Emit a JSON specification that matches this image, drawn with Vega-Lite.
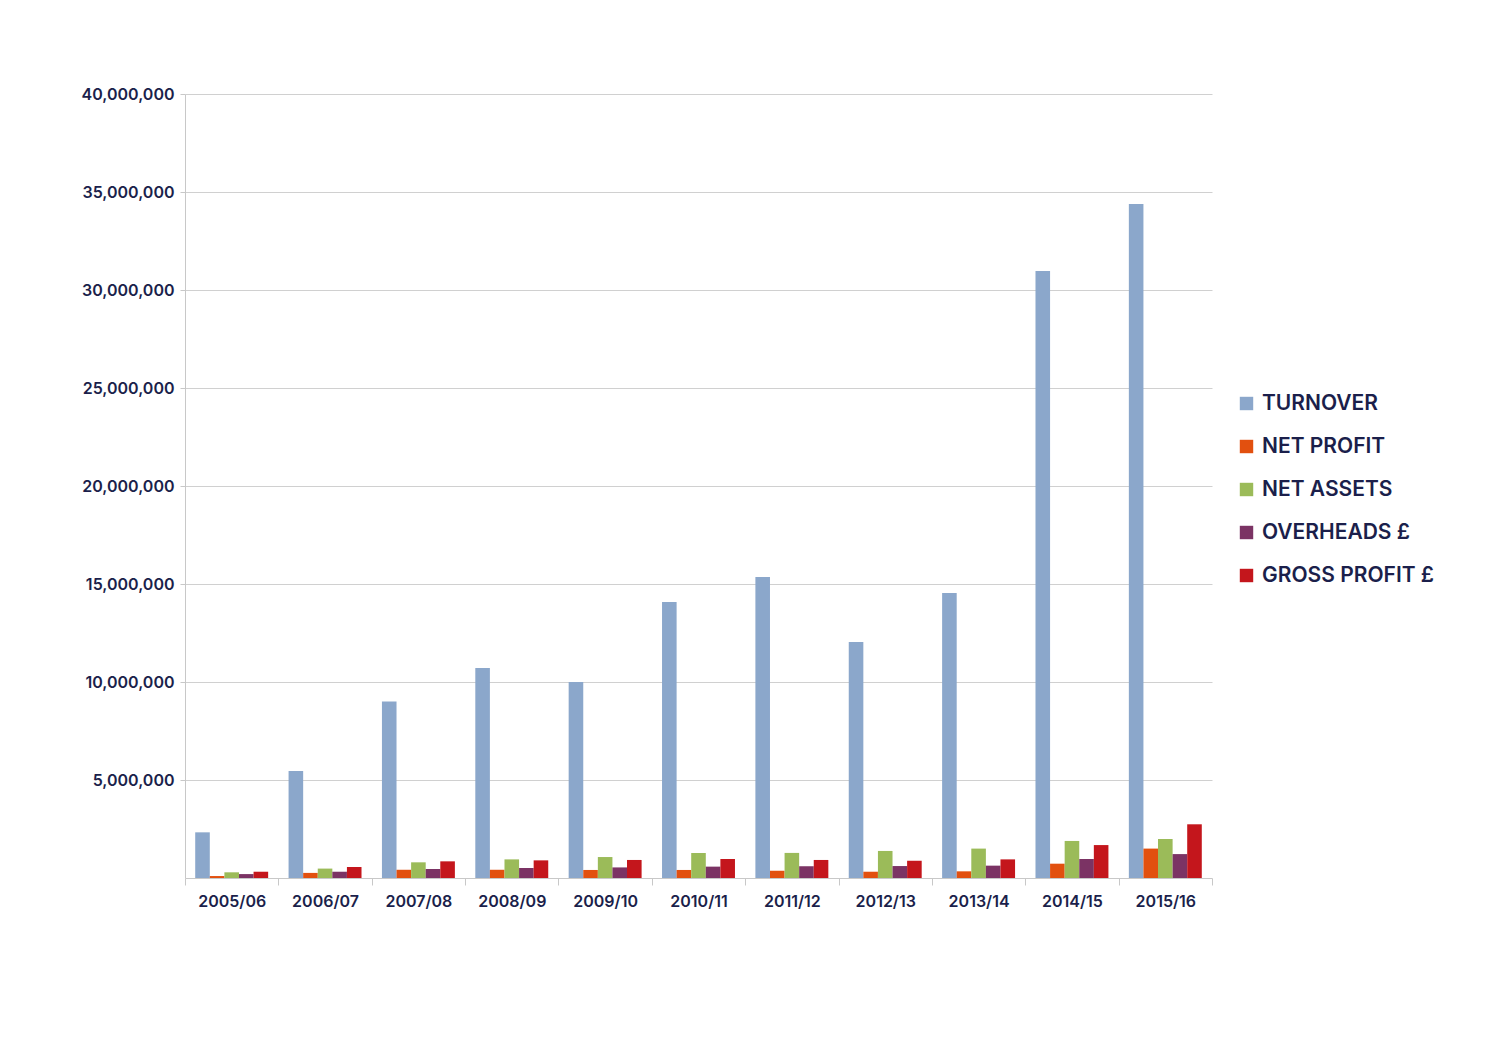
{
  "$schema": "https://vega.github.io/schema/vega-lite/v6.json",
  "width": 1027,
  "height": 784,
  "autosize": {"type": "none"},
  "padding": {"left": 185, "top": 94, "right": 288, "bottom": 182},
  "background": "white",
  "config": {
    "view": {"stroke": null},
    "font": "Inter"
  },
  "data": {
    "values": [
      {"year": "2005/06", "series": "TURNOVER", "value": 2330000},
      {"year": "2005/06", "series": "NET PROFIT", "value": 100000},
      {"year": "2005/06", "series": "NET ASSETS", "value": 290000},
      {"year": "2005/06", "series": "OVERHEADS £", "value": 200000},
      {"year": "2005/06", "series": "GROSS PROFIT £", "value": 320000},
      {"year": "2006/07", "series": "TURNOVER", "value": 5460000},
      {"year": "2006/07", "series": "NET PROFIT", "value": 260000},
      {"year": "2006/07", "series": "NET ASSETS", "value": 480000},
      {"year": "2006/07", "series": "OVERHEADS £", "value": 320000},
      {"year": "2006/07", "series": "GROSS PROFIT £", "value": 560000},
      {"year": "2007/08", "series": "TURNOVER", "value": 9000000},
      {"year": "2007/08", "series": "NET PROFIT", "value": 420000},
      {"year": "2007/08", "series": "NET ASSETS", "value": 800000},
      {"year": "2007/08", "series": "OVERHEADS £", "value": 460000},
      {"year": "2007/08", "series": "GROSS PROFIT £", "value": 850000},
      {"year": "2008/09", "series": "TURNOVER", "value": 10710000},
      {"year": "2008/09", "series": "NET PROFIT", "value": 420000},
      {"year": "2008/09", "series": "NET ASSETS", "value": 950000},
      {"year": "2008/09", "series": "OVERHEADS £", "value": 510000},
      {"year": "2008/09", "series": "GROSS PROFIT £", "value": 900000},
      {"year": "2009/10", "series": "TURNOVER", "value": 10000000},
      {"year": "2009/10", "series": "NET PROFIT", "value": 410000},
      {"year": "2009/10", "series": "NET ASSETS", "value": 1070000},
      {"year": "2009/10", "series": "OVERHEADS £", "value": 540000},
      {"year": "2009/10", "series": "GROSS PROFIT £", "value": 920000},
      {"year": "2010/11", "series": "TURNOVER", "value": 14080000},
      {"year": "2010/11", "series": "NET PROFIT", "value": 410000},
      {"year": "2010/11", "series": "NET ASSETS", "value": 1280000},
      {"year": "2010/11", "series": "OVERHEADS £", "value": 580000},
      {"year": "2010/11", "series": "GROSS PROFIT £", "value": 970000},
      {"year": "2011/12", "series": "TURNOVER", "value": 15360000},
      {"year": "2011/12", "series": "NET PROFIT", "value": 370000},
      {"year": "2011/12", "series": "NET ASSETS", "value": 1280000},
      {"year": "2011/12", "series": "OVERHEADS £", "value": 600000},
      {"year": "2011/12", "series": "GROSS PROFIT £", "value": 920000},
      {"year": "2012/13", "series": "TURNOVER", "value": 12040000},
      {"year": "2012/13", "series": "NET PROFIT", "value": 320000},
      {"year": "2012/13", "series": "NET ASSETS", "value": 1380000},
      {"year": "2012/13", "series": "OVERHEADS £", "value": 610000},
      {"year": "2012/13", "series": "GROSS PROFIT £", "value": 880000},
      {"year": "2013/14", "series": "TURNOVER", "value": 14540000},
      {"year": "2013/14", "series": "NET PROFIT", "value": 340000},
      {"year": "2013/14", "series": "NET ASSETS", "value": 1500000},
      {"year": "2013/14", "series": "OVERHEADS £", "value": 630000},
      {"year": "2013/14", "series": "GROSS PROFIT £", "value": 950000},
      {"year": "2014/15", "series": "TURNOVER", "value": 30970000},
      {"year": "2014/15", "series": "NET PROFIT", "value": 730000},
      {"year": "2014/15", "series": "NET ASSETS", "value": 1890000},
      {"year": "2014/15", "series": "OVERHEADS £", "value": 970000},
      {"year": "2014/15", "series": "GROSS PROFIT £", "value": 1680000},
      {"year": "2015/16", "series": "TURNOVER", "value": 34390000},
      {"year": "2015/16", "series": "NET PROFIT", "value": 1500000},
      {"year": "2015/16", "series": "NET ASSETS", "value": 1990000},
      {"year": "2015/16", "series": "OVERHEADS £", "value": 1220000},
      {"year": "2015/16", "series": "GROSS PROFIT £", "value": 2740000}
    ]
  },
  "mark": {"type": "bar"},
  "encoding": {
    "x": {
      "field": "year",
      "type": "nominal",
      "sort": null,
      "scale": {"paddingInner": 0, "paddingOuter": 0},
      "axis": {
        "title": null,
        "labelAngle": 0,
        "labelFont": "Inter",
        "labelFontSize": 16,
        "labelFontWeight": 600,
        "labelColor": "#1b1f4b",
        "labelPadding": 8,
        "tickBand": "extent",
        "tickSize": 7,
        "tickColor": "#c8c8c8",
        "domainColor": "#c8c8c8",
        "grid": false
      }
    },
    "xOffset": {
      "field": "series",
      "type": "nominal",
      "sort": ["TURNOVER", "NET PROFIT", "NET ASSETS", "OVERHEADS £", "GROSS PROFIT £"],
      "scale": {"paddingInner": 0, "paddingOuter": 0.7}
    },
    "y": {
      "field": "value",
      "type": "quantitative",
      "scale": {"domain": [0, 40000000]},
      "axis": {
        "title": null,
        "values": [5000000, 10000000, 15000000, 20000000, 25000000, 30000000, 35000000, 40000000],
        "format": ",d",
        "labelFont": "Inter",
        "labelFontSize": 16,
        "labelFontWeight": 600,
        "labelColor": "#1b1f4b",
        "labelPadding": 6,
        "tickSize": 5,
        "tickColor": "#c8c8c8",
        "domainColor": "#c8c8c8",
        "gridColor": "#d0d0d0",
        "grid": true
      }
    },
    "color": {
      "field": "series",
      "type": "nominal",
      "scale": {
        "domain": ["TURNOVER", "NET PROFIT", "NET ASSETS", "OVERHEADS £", "GROSS PROFIT £"],
        "range": ["#8ba7cb", "#e2500f", "#9bbb59", "#7b3364", "#c4161c"]
      },
      "legend": {
        "title": null,
        "orient": "none",
        "legendX": 1051,
        "legendY": 299,
        "symbolType": "square",
        "symbolSize": 180,
        "symbolStrokeWidth": 0,
        "labelFont": "Inter",
        "labelFontSize": 21,
        "labelFontWeight": 600,
        "labelColor": "#1b1f4b",
        "rowPadding": 21,
        "labelOffset": 5,
        "labelLimit": 300
      }
    }
  }
}
